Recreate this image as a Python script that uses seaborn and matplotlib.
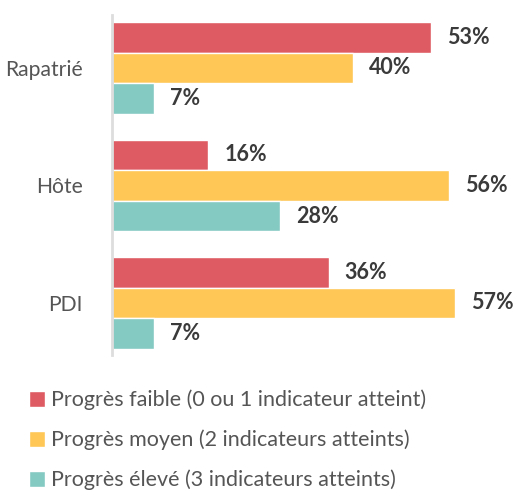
import pandas as pd
import seaborn as sns
import matplotlib.pyplot as plt

groups = ["Rapatrié", "Hôte", "PDI"]
levels = [
    "Progrès faible (0 ou 1 indicateur atteint)",
    "Progrès moyen (2 indicateurs atteints)",
    "Progrès élevé (3 indicateurs atteints)",
]
faible = [53, 16, 36]
moyen = [40, 56, 57]
eleve = [7, 28, 7]
colors = ["#DE5B63", "#FFC755", "#85C9C3"]

rows = []
for lvl, vals in zip(levels, [faible, moyen, eleve]):
    for g, v in zip(groups, vals):
        rows.append({"groupe": g, "niveau": lvl, "pct": v})
df = pd.DataFrame(rows)

sns.set_style("white")
plt.rcParams["font.family"] = ["Lato", "DejaVu Sans"]

W, H = 515, 491
fig = plt.figure(figsize=(W / 100, H / 100), dpi=100)
ax = fig.add_axes([112 / W, 1 - 355 / H, 397 / W, 340 / H])

sns.barplot(data=df, x="pct", y="groupe", hue="niveau", orient="h",
            palette=colors, width=0.78, gap=0, saturation=1, ax=ax,
            legend=True)

for cont in ax.containers:
    ax.bar_label(cont, labels=[f"{int(v)}%" for v in cont.datavalues],
                 padding=11.5, fontsize=15.5, fontweight="bold",
                 color="#3a3a3a", clip_on=False)

ax.set_xlim(0, 66)
ax.set_ylim(2.443, -0.451)
ax.set_xlabel("")
ax.set_ylabel("")
ax.set_xticks([])
ax.tick_params(axis="y", length=0, pad=21, labelsize=15.2, labelcolor="#555555")
for side in ["top", "right", "bottom"]:
    ax.spines[side].set_visible(False)
ax.spines["left"].set_color("#dddddd")
ax.spines["left"].set_linewidth(2)

handles, labels = ax.get_legend_handles_labels()
ax.get_legend().remove()
fig.legend(handles, labels, loc="upper left", bbox_to_anchor=(20 / W, 1 - 381 / H),
           frameon=False, fontsize=15.5, labelcolor="#555555",
           handlelength=0.75, handleheight=0.75, handletextpad=0.3,
           labelspacing=0.9, borderaxespad=0)

fig.savefig("out.png", dpi=100)
